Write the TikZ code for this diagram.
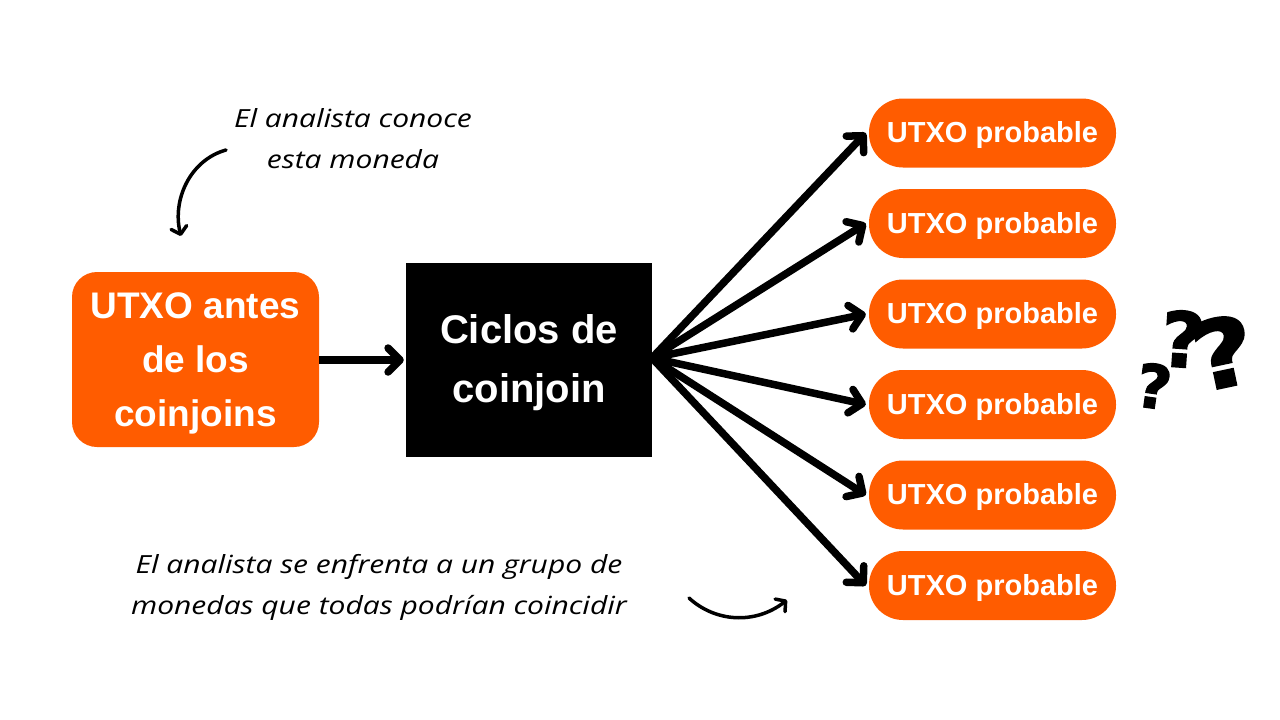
\documentclass[tikz,border=0pt]{standalone}
\usepackage{fontspec}
\setmainfont{Liberation Sans}
\newfontfamily\notefont[FakeStretch=1.2]{Open Sans}
\newfontfamily\qfont[FakeBold=2]{DejaVu Sans}
\usetikzlibrary{arrows.meta}
\begin{document}
\begin{tikzpicture}[x=1pt,y=-1pt,
  boxtext/.style={text=white,font=\bfseries\fontsize{37}{54}\selectfont,align=center,inner sep=0pt},
  cjtext/.style={text=white,font=\bfseries\fontsize{40}{59}\selectfont,align=center,inner sep=0pt},
  pill/.style={fill=orange1,rounded corners=34pt,minimum width=247pt,minimum height=69pt,inner sep=0pt},
  pilltext/.style={text=white,font=\bfseries\fontsize{29}{34}\selectfont,inner sep=0pt},
  bigarrow/.style={line width=7.5pt,line cap=butt,-{Straight Barb[length=12pt,width=24pt,line width=7.5pt,round]}},
  thinarrow/.style={line width=3.5pt,line cap=round,-{Straight Barb[length=7pt,width=16pt,line width=3.5pt,round]}},
  note/.style={font=\notefont\itshape\fontsize{25}{41}\selectfont,align=center,inner sep=0pt},
  qmark/.style={inner sep=0pt}
]
\definecolor{orange1}{HTML}{FF5C00}
\useasboundingbox (0,0) rectangle (1280,720);
\fill[white] (0,0) rectangle (1280,720);

\node[fill=orange1,rounded corners=25pt,minimum width=247pt,minimum height=175pt,inner sep=0pt] (src) at (195.5,359.5) {};
\node[boxtext] (srct) at (195.5,363) {UTXO antes\\de los\\coinjoins};
\node[fill=black,minimum width=246pt,minimum height=194pt,inner sep=0pt] (cj) at (529,360) {};
\node[cjtext] (cjt) at (529,362.5) {Ciclos de\\coinjoin};

\foreach \i/\y in {1/133,2/223.5,3/314,4/404.5,5/495,6/585.5}{
  \node[pill] (p\i) at (992.5,\y) {};
  \node[pilltext] (p\i t) at (992.5,\y+2) {UTXO probable};
}

\coordinate (fan) at (652,358);
\draw[bigarrow] (src.east |- 0,360) -- ([xshift=-2pt]cj.west |- 0,360);
\foreach \i in {1,...,6}{
  \draw[bigarrow] (fan) -- ([xshift=-3pt]p\i.west);
}

\node[note] (n1) at (353,139) {El analista conoce\\esta moneda};
\node[note] (n2) at (379,587) {El analista se enfrenta a un grupo de\\monedas que todas podrían coincidir};

\coordinate (a1s) at (226,150);
\coordinate (a1e) at (181,236);
\draw[thinarrow] (a1s) .. controls (190,160) and (172,200) .. (a1e);
\coordinate (a2s) at (689,598);
\coordinate (a2e) at (787,600);
\draw[thinarrow] (a2s) .. controls (715,622) and (755,625) .. (a2e);

\node[qmark,font=\qfont\bfseries\fontsize{60}{60}\selectfont,rotate=-8] (q1) at (1154,386) {?};
\node[qmark,font=\qfont\bfseries\fontsize{76}{76}\selectfont,rotate=-4] (q2) at (1183,339) {?};
\node[qmark,font=\qfont\bfseries\fontsize{94}{94}\selectfont,rotate=12,xscale=1.15] (q3) at (1223,352) {?};
\end{tikzpicture}
\end{document}
